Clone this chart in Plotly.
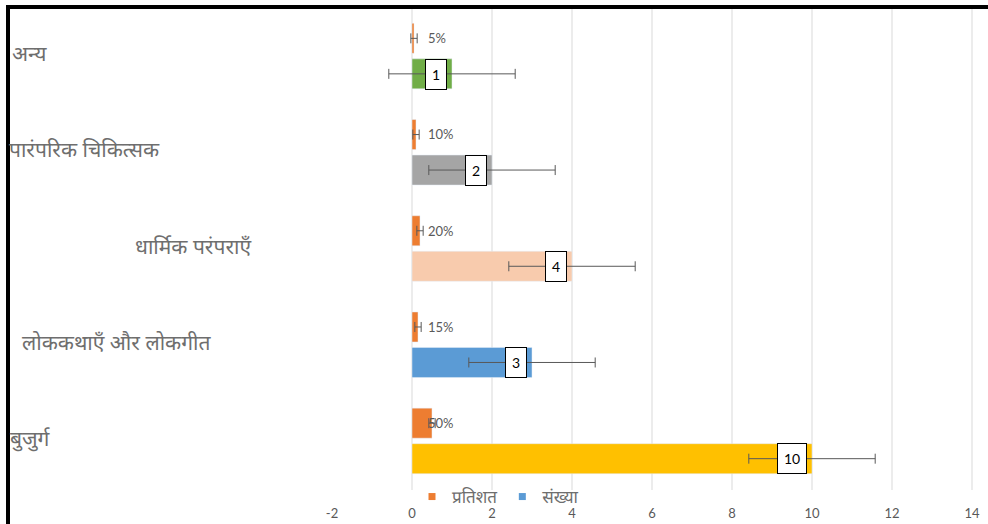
import plotly.graph_objects as go

# ---- data ----
categories = ["अन्य", "पारंपरिक चिकित्सक", "धार्मिक परंपराएँ", "लोककथाएँ और लोकगीत", "बुजुर्ग"]
percent_values = [0.05, 0.10, 0.20, 0.15, 0.50]
count_values = [1, 2, 4, 3, 10]
count_errors = [1.58, 1.58, 1.58, 1.58, 1.58]
percent_errors = [0.079, 0.079, 0.079, 0.079, 0.079]
count_colors = ["#70AD47", "#A5A5A5", "#F8CBAD", "#5B9BD5", "#FFC000"]
x_tick_values = [-2, 0, 2, 4, 6, 8, 10, 12, 14]
x_tick_labels = ["-2", "0", "2", "4", "6", "8", "10", "12", "14"]
series_names = ["प्रतिशत", "संख्या"]

percent_labels = [f"{round(p * 100)}%" for p in percent_values]
count_labels = [str(c) for c in count_values]

DEV_FONT = "Noto Sans Devanagari, Noto Sans, Lohit Devanagari, sans-serif"
NUM_FONT = "Lato, Carlito, sans-serif"
GRAY = "#595959"
LABEL_GRAY = "#6E6E6E"

fig = go.Figure()

err_style = dict(type="data", color="#595959", thickness=1, width=5)

fig.add_trace(go.Bar(
    y=categories, x=percent_values, orientation="h", name=series_names[0],
    marker=dict(color="#ED7D31"),
    error_x=dict(array=percent_errors, **err_style),
    showlegend=False, hoverinfo="x+y",
))
fig.add_trace(go.Bar(
    y=categories, x=count_values, orientation="h", name=series_names[1],
    marker=dict(color=count_colors),
    error_x=dict(array=count_errors, **err_style),
    showlegend=False, hoverinfo="x+y",
))

# legend entries
for name, col in zip(series_names, ["#ED7D31", "#5B9BD5"]):
    fig.add_trace(go.Scatter(
        x=[None], y=[None], mode="markers", name=name,
        marker=dict(symbol="square", size=7, color=col),
    ))

W, H = 988, 524
ML, MR, MT, MB = 10, 0, 8, 34
PW, PH = W - ML - MR, H - MT - MB

def px_to_paper_x(px):
    return (px - ML) / PW

def px_to_paper_y(py):
    return (H - MB - py) / PH

shapes = []
for v in x_tick_values:
    if v >= 0:
        shapes.append(dict(type="line", xref="x", yref="paper", x0=v, x1=v, y0=0, y1=1,
                           line=dict(color="#D9D9D9", width=1), layer="below"))
# black frame (top and left)
shapes.append(dict(type="line", xref="paper", yref="paper",
                   x0=px_to_paper_x(8), x1=px_to_paper_x(8),
                   y0=px_to_paper_y(5), y1=px_to_paper_y(530),
                   line=dict(color="black", width=4)))
shapes.append(dict(type="line", xref="paper", yref="paper",
                   x0=px_to_paper_x(6), x1=px_to_paper_x(990),
                   y0=px_to_paper_y(7), y1=px_to_paper_y(7),
                   line=dict(color="black", width=4)))

annotations = []
label_left_px = [10, 7, 133, 20, 8]
for cat, lx in zip(categories, label_left_px):
    annotations.append(dict(
        xref="paper", yref="y", x=px_to_paper_x(lx), y=cat, xanchor="left", yanchor="middle",
        text=cat, showarrow=False, font=dict(family=DEV_FONT, size=21, color=LABEL_GRAY),
    ))
for cat, lab in zip(categories, percent_labels):
    annotations.append(dict(
        xref="x", yref="y", x=0, y=cat, xshift=14, yshift=18, xanchor="left", yanchor="middle",
        text=lab, showarrow=False, font=dict(family=NUM_FONT, size=13, color=GRAY),
    ))
for cat, val, lab in zip(categories, count_values, count_labels):
    annotations.append(dict(
        xref="x", yref="y", x=val, y=cat, xshift=-5, yshift=-18, xanchor="right", yanchor="middle",
        text=lab, showarrow=False, font=dict(family=NUM_FONT, size=14, color="black"),
        bgcolor="white", bordercolor="black", borderwidth=1, borderpad=6,
    ))

fig.update_layout(
    width=W, height=H,
    margin=dict(l=ML, r=MR, t=MT, b=MB, autoexpand=False),
    paper_bgcolor="white", plot_bgcolor="white",
    barmode="group", bargap=0.262, bargroupgap=0.155,
    shapes=shapes, annotations=annotations,
    showlegend=True,
    legend=dict(orientation="h", x=px_to_paper_x(412), y=px_to_paper_y(497),
                xanchor="left", yanchor="middle", bgcolor="rgba(0,0,0,0)",
                font=dict(family=DEV_FONT, size=17, color=LABEL_GRAY),
                itemwidth=30, tracegroupgap=0),
    xaxis=dict(range=[-10.05, 14.4], tickvals=x_tick_values, ticktext=x_tick_labels,
               showgrid=False, zeroline=False, showline=False, ticks="", ticklabelstandoff=14,
               tickfont=dict(family=NUM_FONT, size=13, color=GRAY)),
    yaxis=dict(type="category", categoryorder="array", categoryarray=categories,
               range=[4.51, -0.5], showticklabels=False, showgrid=False, zeroline=False,
               showline=False, ticks=""),
)

fig.write_html("out.html", config={"displayModeBar": False},
               post_script="document.body.style.margin='0px';document.body.style.overflow='hidden';")
